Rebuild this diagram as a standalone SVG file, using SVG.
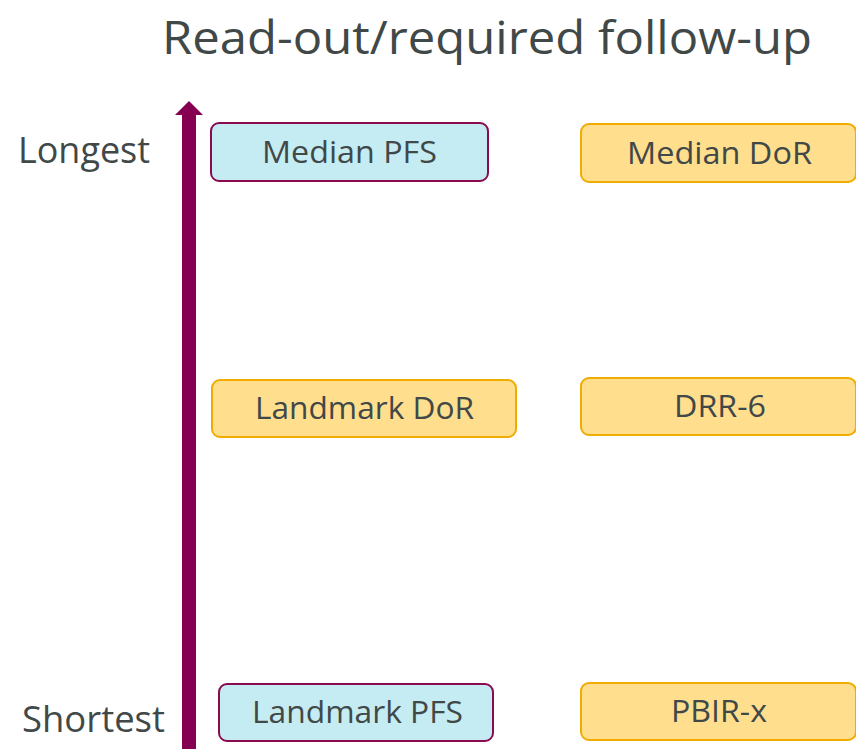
<svg xmlns="http://www.w3.org/2000/svg" width="856" height="749" viewBox="0 0 856 749">
  <style>
    text { font-family: "Open Sans", "Noto Sans", "Liberation Sans", sans-serif; fill: #404848; }
    .title { font-size: 46px; }
    .axis { font-size: 36px; }
    .lbl { font-size: 31px; text-anchor: middle; }
    .pfs { fill: #C5ECF2; stroke: #8B0A50; stroke-width: 2; }
    .dor { fill: #FFDE8E; stroke: #F0AC00; stroke-width: 2; }
  </style>

  <rect width="856" height="749" fill="#FFFFFF"/>

  <text class="title" x="487" y="54" text-anchor="middle" textLength="650" lengthAdjust="spacingAndGlyphs">Read-out/required follow-up</text>

  <text class="axis" x="18" y="163" textLength="132" lengthAdjust="spacingAndGlyphs">Longest</text>
  <text class="axis" x="22" y="732" textLength="143" lengthAdjust="spacingAndGlyphs">Shortest</text>

  <g id="connectors">
    <rect x="182" y="114" width="14" height="640" fill="#850050"/>
    <polygon points="175,115 203,115 189,101" fill="#850050"/>
  </g>

  <g id="median-pfs">
    <rect class="pfs" x="211" y="123" width="277" height="58" rx="8"/>
    <text class="lbl" x="349.5" y="163" textLength="175" lengthAdjust="spacingAndGlyphs">Median PFS</text>
  </g>
  <g id="median-dor">
    <rect class="dor" x="581" y="124" width="275" height="58" rx="8"/>
    <text class="lbl" x="719.5" y="164" textLength="185" lengthAdjust="spacingAndGlyphs">Median DoR</text>
  </g>
  <g id="landmark-dor">
    <rect class="dor" x="212" y="380" width="304" height="57" rx="8"/>
    <text class="lbl" x="364.5" y="419" textLength="219" lengthAdjust="spacingAndGlyphs">Landmark DoR</text>
  </g>
  <g id="drr-6">
    <rect class="dor" x="581" y="378" width="275" height="57" rx="8"/>
    <text class="lbl" x="720" y="417" textLength="92" lengthAdjust="spacingAndGlyphs">DRR-6</text>
  </g>
  <g id="landmark-pfs">
    <rect class="pfs" x="219" y="684" width="274" height="57" rx="8"/>
    <text class="lbl" x="357.5" y="723" textLength="211" lengthAdjust="spacingAndGlyphs">Landmark PFS</text>
  </g>
  <g id="pbir-x">
    <rect class="dor" x="581" y="683" width="275" height="57" rx="8"/>
    <text class="lbl" x="719" y="722" textLength="96" lengthAdjust="spacingAndGlyphs">PBIR-x</text>
  </g>
</svg>
